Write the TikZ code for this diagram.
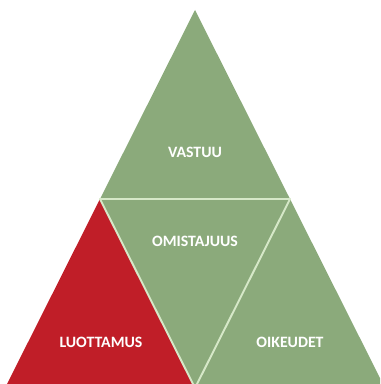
\documentclass[tikz,border=0pt]{standalone}
\usepackage{fontspec}
\setmainfont{Carlito}
\definecolor{leafgreen}{RGB}{139,170,123}
\definecolor{trustred}{RGB}{192,30,40}
\definecolor{seamgreen}{RGB}{214,232,200}
\tikzset{
	label/.style={text=white, font=\fontsize{9}{11}\selectfont\bfseries},
	seam/.style={draw=seamgreen, line width=1.1pt, line join=round}
}
\begin{document}
\begin{tikzpicture}[x=0.02cm, y=-0.02cm]
		\useasboundingbox (0,0) rectangle (380,384);
		\clip (0,0) rectangle (380,384);
		
		\coordinate (top) at (195,10);
		\coordinate (left) at (5,388);
		\coordinate (right) at (385,388);
		\coordinate (midleft) at (100,199);
		\coordinate (midright) at (290,199);
		\coordinate (midbottom) at (195,388);
		
		\fill[color = leafgreen] (top) -- (midleft) -- (midright) -- cycle;
		\fill[color = leafgreen] (midleft) -- (midright) -- (midbottom) -- cycle;
		\fill[color = leafgreen] (midright) -- (right) -- (midbottom) -- cycle;
		\fill[color = trustred] (midleft) -- (midbottom) -- (left) -- cycle;
		
		\draw[seam] (midleft) -- (midright) -- (midbottom) -- cycle;
		
		\node[label] (vastuu) at (195,152) {VASTUU};
		\node[label] (omistajuus) at (195,241) {OMISTAJUUS};
		\node[label] (luottamus) at (101,342) {LUOTTAMUS};
		\node[label] (oikeudet) at (290,342) {OIKEUDET};
	\end{tikzpicture}
\end{document}
